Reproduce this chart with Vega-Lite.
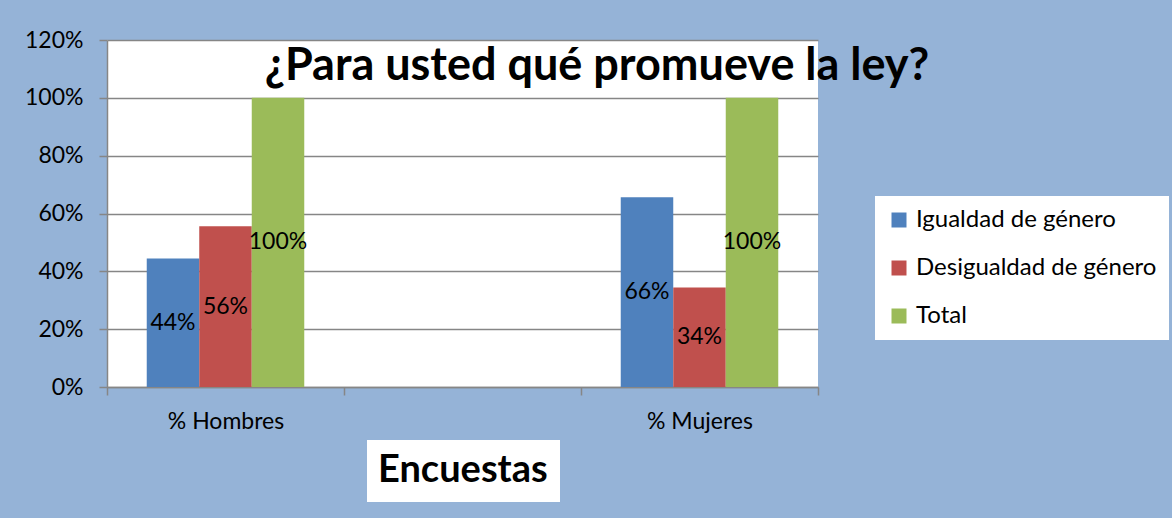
{
  "$schema": "https://vega.github.io/schema/vega-lite/v6.json",
  "width": 711,
  "height": 347,
  "autosize": {"type": "none"},
  "padding": {"left": 107, "top": 40, "right": 354, "bottom": 131},
  "background": "#95B3D7",
  "title": {
    "text": "¿Para usted qué promueve la ley?",
    "font": "Lato",
    "fontSize": 45,
    "fontWeight": "bold",
    "color": "black",
    "orient": "none",
    "anchor": "middle",
    "frame": "group",
    "baseline": "alphabetic",
    "dx": 490,
    "dy": 40
  },
  "config": {"view": {"fill": "white", "stroke": null}, "font": "Lato"},
  "data": {
    "values": [
      {"grupo": "% Hombres", "categoria": "Igualdad de género", "valor": 0.444},
      {"grupo": "% Hombres", "categoria": "Desigualdad de género", "valor": 0.556},
      {"grupo": "% Hombres", "categoria": "Total", "valor": 1.0},
      {"grupo": "% Mujeres", "categoria": "Igualdad de género", "valor": 0.656},
      {"grupo": "% Mujeres", "categoria": "Desigualdad de género", "valor": 0.344},
      {"grupo": "% Mujeres", "categoria": "Total", "valor": 1.0}
    ]
  },
  "layer": [
    {
      "mark": {"type": "bar"},
      "encoding": {
        "x": {
          "field": "grupo",
          "type": "nominal",
          "scale": {"domain": ["% Hombres", " ", "% Mujeres"], "paddingInner": 0, "paddingOuter": 0},
          "axis": {
            "title": null,
            "labelFont": "Lato",
            "labelFontSize": 23,
            "labelColor": "black",
            "labelAngle": 0,
            "tickBand": "extent",
            "tickSize": 8,
            "tickColor": "#868686",
            "tickWidth": 1.5,
            "domainColor": "#868686",
            "domainWidth": 1.5,
            "labelPadding": 15,
            "grid": false
          }
        },
        "xOffset": {
          "field": "categoria",
          "type": "nominal",
          "scale": {"domain": ["Igualdad de género", "Desigualdad de género", "Total"], "paddingInner": 0, "paddingOuter": 0.757}
        },
        "y": {
          "field": "valor",
          "type": "quantitative",
          "scale": {"domain": [0, 1.2]},
          "axis": {
            "title": null,
            "format": ".0%",
            "values": [0, 0.2, 0.4, 0.6, 0.8, 1.0, 1.2],
            "labelFont": "Lato",
            "labelFontSize": 23,
            "labelColor": "black",
            "labelPadding": 16,
            "tickSize": 8,
            "tickColor": "#868686",
            "tickWidth": 1.5,
            "domainColor": "#868686",
            "domainWidth": 1.5,
            "grid": true,
            "gridColor": "#868686",
            "gridWidth": 1.5
          }
        },
        "color": {
          "field": "categoria",
          "type": "nominal",
          "scale": {
            "domain": ["Igualdad de género", "Desigualdad de género", "Total"],
            "range": ["#4F81BD", "#C0504D", "#9BBB59"]
          },
          "legend": {
            "title": null,
            "orient": "none",
            "legendX": 768,
            "legendY": 156,
            "fillColor": "white",
            "padding": 12,
            "symbolType": "square",
            "symbolSize": 225,
            "symbolStrokeWidth": 0,
            "labelFont": "Lato",
            "labelFontSize": 24,
            "labelLimit": 400,
            "labelColor": "black",
            "labelOffset": 5,
            "rowPadding": 24
          }
        },
        "opacity": {
          "datum": "Encuestas",
          "type": "nominal",
          "scale": {"range": [1]},
          "legend": {
            "title": null,
            "orient": "none",
            "legendX": 260,
            "legendY": 400,
            "fillColor": "white",
            "padding": 12,
            "symbolSize": 0,
            "symbolOpacity": 0,
            "symbolStrokeWidth": 0,
            "labelOffset": -39,
            "labelLimit": 400,
            "labelFont": "Lato",
            "labelFontSize": 38,
            "labelFontWeight": "bold",
            "labelColor": "black"
          }
        }
      }
    },
    {
      "mark": {"type": "text", "font": "Lato", "fontSize": 23, "color": "black", "baseline": "middle"},
      "encoding": {
        "x": {"field": "grupo", "type": "nominal"},
        "xOffset": {"field": "categoria", "type": "nominal"},
        "y": {"field": "valor", "type": "quantitative", "scale": {"domain": [0, 2.4]}, "axis": null},
        "text": {"field": "valor", "type": "quantitative", "format": ".0%"}
      }
    }
  ],
  "resolve": {"scale": {"y": "independent"}}
}
